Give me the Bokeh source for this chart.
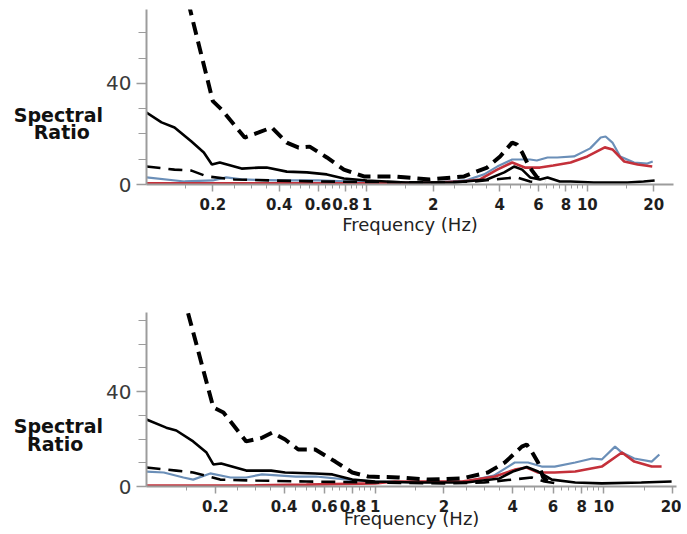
from bokeh.plotting import figure
from bokeh.layouts import column
from bokeh.models import FixedTicker, Range1d
from bokeh.embed import file_html
from bokeh.resources import INLINE

# ---------------- axis ticks ----------------
freq_ticks = [0.2, 0.4, 0.6, 0.8, 1, 2, 4, 6, 8, 10, 20]
freq_labels = ["0.2", "0.4", "0.6", "0.8", "1", "2", "4", "6", "8", "10", "20"]
freq_minor = [0.15, 0.25, 0.3, 0.35, 0.45, 0.5, 0.55, 0.65, 0.7, 0.75, 0.85, 0.9, 0.95,
              1.5, 2.5, 3, 3.5, 4.5, 5, 5.5, 6.5, 7, 7.5, 8.5, 9, 9.5, 15]
ratio_ticks = [0, 40]
ratio_minor = [10, 20, 30, 50, 60, 70]
x_title = "Frequency (Hz)"
NB = "\u00a0"
# leading blank lines push the two-line title down; non-breaking spaces centre "Ratio"
y_title_top = "\n\n\nSpectral\nRatio" + NB * 2
y_title_bot = "\n\n\n\nSpectral\nRatio" + NB * 3

# ---------------- top panel ----------------
top_heavy_f = [0.155, 0.160, 0.200, 0.219, 0.279, 0.323, 0.370, 0.433, 0.49, 0.55, 0.658, 0.786,
               0.969, 1.33, 1.93, 2.76, 3.51, 4.02, 4.56, 4.8, 5.06, 5.44, 5.92, 6.45]
top_heavy_v = [72, 67, 33, 29.7, 18.6, 20.6, 22.6, 16.6, 14.6, 15.0, 10.7, 5.9,
               3.2, 3.2, 2.0, 3.2, 6.7, 11.1, 16.6, 15.8, 12.7, 7.1, 2.8, 1.2]

top_solid_f = [0.1, 0.117, 0.134, 0.16, 0.182, 0.198, 0.215, 0.27, 0.323, 0.351, 0.433, 0.534,
               0.658, 0.786, 1.0, 1.5, 2.5, 3.5, 4.2, 4.65, 5.06, 5.5, 6.1, 6.6, 7.5, 8.4,
               10.7, 15.2, 18, 20.2]
top_solid_v = [28.5, 24.6, 22.6, 17.0, 12.7, 7.9, 8.7, 6.3, 6.7, 6.7, 5.1, 4.8,
               4.0, 2.4, 1.6, 0.8, 0.8, 2.0, 4.8, 7.1, 5.9, 2.8, 2.0, 2.8, 1.2, 1.2,
               0.8, 0.8, 1.2, 1.6]

top_thin_f = [0.1, 0.134, 0.16, 0.188, 0.25, 0.37, 0.6, 1.0, 2.0, 3.06, 4.2, 4.8, 5.5, 6.0]
top_thin_v = [7.1, 5.9, 5.5, 3.2, 2.0, 1.6, 1.2, 1.0, 0.8, 1.2, 2.4, 2.8, 1.2, 0.8]

top_blue_f = [0.1, 0.149, 0.2, 0.23, 0.27, 0.4, 0.6, 1.0, 2.0, 2.8, 3.4, 3.9, 4.56, 5.5, 5.9,
              6.6, 7.3, 8.7, 10.3, 11.5, 12.1, 13.0, 14.1, 16.3, 18.7, 19.8]
top_blue_v = [2.8, 1.2, 1.6, 2.8, 2.0, 1.6, 1.6, 1.0, 0.8, 1.6, 4.0, 7.1, 9.9, 9.9, 9.5,
              10.7, 10.7, 11.1, 14.3, 18.6, 19.0, 16.6, 11.1, 8.7, 8.3, 9.1]

top_red_f = [0.1, 0.5, 1.0, 2.0, 2.7, 3.26, 3.9, 4.56, 5.2, 6.1, 7.0, 8.4, 10, 12, 13, 14.7,
             16.9, 19.7]
top_red_v = [0.5, 0.5, 0.6, 0.8, 1.2, 2.0, 5.9, 8.7, 6.7, 6.7, 7.5, 8.7, 11.1, 14.7, 13.9, 9.1,
             7.9, 7.1]

# ---------------- bottom panel ----------------
bot_heavy_f = [0.152, 0.196, 0.217, 0.273, 0.32, 0.355, 0.404, 0.461, 0.547, 0.669, 0.794,
               0.932, 1.26, 1.70, 2.4, 3.11, 3.69, 4.38, 4.6, 4.84, 5.16, 5.43, 5.7]
bot_heavy_v = [73, 33.3, 31.2, 19.0, 20.5, 22.7, 19.8, 15.6, 15.6, 10.5, 5.9,
               4.2, 3.8, 2.9, 3.4, 5.9, 10.1, 16.8, 17.7, 14.7, 10.1, 3.8, 2.1]

bot_solid_f = [0.1, 0.122, 0.135, 0.16, 0.183, 0.196, 0.212, 0.273, 0.351, 0.404, 0.547, 0.65,
               0.794, 1.0, 1.5, 2.5, 3.5, 4.0, 4.6, 5.16, 5.93, 7.5, 9.8, 14.6, 19.8]
bot_solid_v = [28.2, 24.8, 23.6, 19.0, 14.3, 9.3, 9.7, 6.7, 6.7, 5.9, 5.5, 5.1,
               2.9, 2.1, 1.7, 1.7, 3.4, 6.3, 8.2, 6.3, 2.9, 1.7, 1.3, 1.7, 2.1]

bot_thin_f = [0.1, 0.135, 0.16, 0.187, 0.21, 0.3, 0.5, 1.0, 2.0, 3.0, 3.96, 4.84, 5.5, 6.2]
bot_thin_v = [8.0, 6.7, 5.9, 4.2, 2.9, 2.5, 2.1, 1.7, 1.3, 1.7, 2.9, 3.8, 2.1, 1.3]

bot_blue_f = [0.1, 0.119, 0.145, 0.16, 0.19, 0.233, 0.273, 0.32, 0.45, 0.55, 0.76, 1.0, 1.5,
              2.5, 3.3, 4.08, 4.66, 5.35, 6.1, 7.5, 8.9, 9.8, 11.2, 12, 13.6, 16.2, 17.5]
bot_blue_v = [6.3, 5.9, 3.8, 2.9, 5.5, 3.8, 3.8, 5.1, 4.2, 4.2, 2.9, 2.1, 1.7,
              2.1, 4.6, 10.1, 10.1, 8.4, 8.4, 10.1, 11.8, 11.4, 16.8, 14.3, 11.8, 10.5, 13.5]

bot_red_f = [0.1, 0.3, 0.5, 1.0, 1.22, 2.4, 3.34, 4.08, 4.6, 5.16, 6.1, 7.5, 9.8, 12, 13.6,
             16.2, 17.9]
bot_red_v = [0.4, 0.5, 0.8, 1.3, 2.1, 2.1, 4.2, 7.1, 8.0, 5.9, 5.9, 6.3, 8.4, 14.3, 10.5,
             8.4, 8.4]

AXIS_GREY = "#9c9c9c"
FONT = "DejaVu Sans"
BLUE = "#6b8fb8"
RED = "#c4303a"


def make_panel(xmax, ymax, fw, fh, left, right, top, bottom, xlab_standoff, ytitle, data):
    p = figure(x_axis_type="log", x_range=Range1d(0.1, xmax), y_range=Range1d(0, ymax),
               frame_width=fw, frame_height=fh, min_border_left=left, min_border_right=right,
               min_border_top=top, min_border_bottom=bottom,
               output_backend="svg", toolbar_location=None)
    p.outline_line_color = None
    p.grid.grid_line_color = None
    p.background_fill_color = "white"
    p.border_fill_color = "white"

    xa = p.xaxis[0]
    xa.ticker = FixedTicker(ticks=freq_ticks, minor_ticks=freq_minor)
    xa.major_label_overrides = dict(zip(freq_ticks, freq_labels))
    xa.axis_line_color = AXIS_GREY
    xa.axis_line_width = 2
    xa.major_tick_line_color = AXIS_GREY
    xa.minor_tick_line_color = AXIS_GREY
    xa.major_tick_line_width = 1.5
    xa.major_tick_in = 0
    xa.major_tick_out = 7
    xa.minor_tick_in = 0
    xa.minor_tick_out = 4
    xa.major_label_standoff = 6
    xa.major_label_text_font = FONT
    xa.major_label_text_font_size = "15px"
    xa.major_label_text_font_style = "bold"
    xa.major_label_text_color = "#1e1e1e"
    xa.axis_label = x_title
    xa.axis_label_text_font = FONT
    xa.axis_label_text_font_size = "18px"
    xa.axis_label_text_font_style = "normal"
    xa.axis_label_text_color = "#222222"
    xa.axis_label_standoff = xlab_standoff

    ya = p.yaxis[0]
    ya.ticker = FixedTicker(ticks=ratio_ticks, minor_ticks=ratio_minor)
    ya.axis_line_color = AXIS_GREY
    ya.axis_line_width = 2
    ya.major_tick_line_color = AXIS_GREY
    ya.minor_tick_line_color = AXIS_GREY
    ya.major_tick_line_width = 1.5
    ya.major_tick_in = 0
    ya.major_tick_out = 10
    ya.minor_tick_in = 0
    ya.minor_tick_out = 8
    ya.major_label_standoff = 5
    ya.major_label_text_font = FONT
    ya.major_label_text_font_size = "20px"
    ya.major_label_text_color = "#3a3a3a"
    ya.axis_label = ytitle
    ya.axis_label_orientation = "horizontal"
    ya.axis_label_text_font = FONT
    ya.axis_label_text_font_size = "19px"
    ya.axis_label_text_font_style = "bold"
    ya.axis_label_text_color = "#111111"
    ya.axis_label_text_line_height = 0.8
    ya.axis_label_standoff = 0

    (hf, hv), (sf, sv), (tf, tv), (bf, bv), (rf, rv) = data
    p.line(bf, bv, line_color=BLUE, line_width=2.2)
    p.line(rf, rv, line_color=RED, line_width=2.6)
    p.line(tf, tv, line_color="black", line_width=2.6, line_dash="14 8")
    p.line(sf, sv, line_color="black", line_width=2.6)
    p.line(hf, hv, line_color="black", line_width=4, line_dash="13 7")
    return p


top = make_panel(24.6, 69.3, 527, 175, 142, 12, 9, 111, 1, y_title_top,
                 [(top_heavy_f, top_heavy_v), (top_solid_f, top_solid_v),
                  (top_thin_f, top_thin_v), (top_blue_f, top_blue_v), (top_red_f, top_red_v)])

bot = make_panel(20.8, 73.3, 530, 174, 146, 5, 17, 39, -7, y_title_bot,
                 [(bot_heavy_f, bot_heavy_v), (bot_solid_f, bot_solid_v),
                  (bot_thin_f, bot_thin_v), (bot_blue_f, bot_blue_v), (bot_red_f, bot_red_v)])

layout = column(top, bot, spacing=0)
open("out.html", "w").write(file_html(layout, INLINE))
